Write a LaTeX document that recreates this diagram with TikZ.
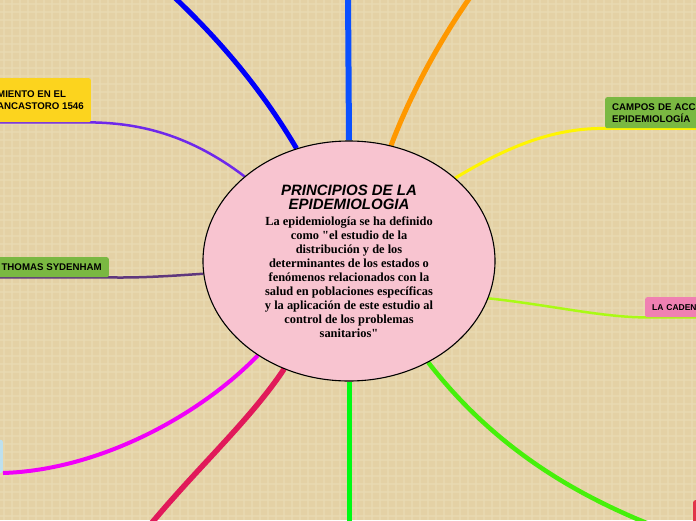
\documentclass[tikz,border=0pt]{standalone}
\usepackage{fontspec}
\setmainfont{Liberation Serif}[Ligatures=TeXOff]
\setsansfont{Liberation Sans}
\usetikzlibrary{shapes.geometric,backgrounds}

\definecolor{fondo}{RGB}{228,209,165}
\definecolor{cuadricula}{RGB}{234,219,180}
\definecolor{rosa}{RGB}{248,196,208}
\definecolor{verdecaja}{RGB}{122,184,66}
\definecolor{amarillocaja}{RGB}{252,212,30}
\definecolor{rosacaja}{RGB}{240,128,178}
\definecolor{celeste}{RGB}{190,224,238}
\definecolor{rojocaja}{RGB}{226,52,72}
\definecolor{azul}{RGB}{0,0,250}
\definecolor{azulclaro}{RGB}{10,80,255}
\definecolor{naranja}{RGB}{255,152,0}
\definecolor{amarillo}{RGB}{255,245,0}
\definecolor{lima}{RGB}{170,250,20}
\definecolor{verde}{RGB}{70,240,10}
\definecolor{verdepuro}{RGB}{0,250,20}
\definecolor{carmin}{RGB}{225,25,90}
\definecolor{magenta}{RGB}{240,0,250}
\definecolor{morado}{RGB}{95,55,125}
\definecolor{violeta}{RGB}{110,40,235}

\tikzset{
	tema/.style = {rounded corners = 2pt, inner xsep = 7pt, inner ysep = 3pt,
		align = left, font = \sffamily\bfseries\fontsize{9.7}{12}\selectfont},
	rama/.style = {line width = #1}
}

\begin{document}
\begin{tikzpicture}[x = 1pt, y = -1pt]
	\useasboundingbox (0,0) rectangle (696,520);
	\clip (0,0) rectangle (696,520);

	% idea central
	\node[ellipse, draw, line width = 1.1pt, fill = rosa, minimum width = 292pt, minimum height = 240pt,
		inner sep = 0pt, align = center, font = \bfseries\fontsize{12.4}{13.9}\selectfont] (centro) at (349,261) {
		{\sffamily\itshape\fontsize{15}{17}\selectfont PRINCIPIOS DE LA}\\[0pt]
		{\sffamily\itshape\fontsize{15}{17}\selectfont EPIDEMIOLOGIA}\\[3pt]
		La epidemiología se ha definido\\
		como "el estudio de la\\
		distribución y de los\\
		determinantes de los estados o\\
		fenómenos relacionados con la\\
		salud en poblaciones específicas\\
		y la aplicación de este estudio al\\
		control de los problemas\\
		sanitarios"};

	% temas
	\node[tema, fill = amarillocaja, anchor = north east, minimum height = 44pt] (fracastoro) at (91,78)
		{MIENTO EN EL\\ANCASTORO 1546};
	\node[tema, fill = verdecaja, anchor = north east, minimum height = 20pt] (sydenham) at (109,257)
		{THOMAS SYDENHAM};
	\node[tema, fill = verdecaja, anchor = north west, minimum height = 31pt, text width = 116pt] (campos) at (605,97)
		{CAMPOS DE ACC\\EPIDEMIOLOGÍA};
	\node[tema, fill = rosacaja, anchor = north west, minimum height = 20pt, text width = 76pt,
		font = \sffamily\bfseries\fontsize{8.5}{10}\selectfont] (cadena) at (645,297) {LA CADEN};
	\node[tema, fill = celeste, anchor = south east, minimum height = 33pt, minimum width = 40pt] (celeste) at (3,473) {};
	\node[tema, fill = rojocaja, anchor = north west, minimum height = 40pt, minimum width = 40pt] (rojo) at (693,500) {};

	% extremos libres
	\coordinate (arriba1) at (173,-4);
	\coordinate (arriba2) at (348,-6);
	\coordinate (arriba3) at (471,-4);
	\coordinate (abajo1) at (150,525);
	\coordinate (abajo2) at (349,526);

	\begin{scope}[on background layer]
		\fill[fondo] (0,0) rectangle (696,520);
		\foreach \i in {4,12,...,700}
			\draw[cuadricula, line width = 2pt, opacity = 0.6] (\i,0) -- (\i,520);
		\foreach \j in {4,12,...,524}
			\draw[cuadricula, line width = 2pt, opacity = 0.6] (0,\j) -- (696,\j);

		% ramas
		\draw[rama = 5pt, azul] (centro.115) .. controls (265,95) and (225,45) .. (arriba1);
		\draw[rama = 6pt, azulclaro] (centro.90) -- (arriba2);
		\draw[rama = 5pt, naranja] (centro.70) .. controls (410,95) and (440,40) .. (arriba3);
		\draw[rama = 3pt, amarillo] (centro.38) .. controls (510,145) and (555,128) .. (campos.south west) -- (campos.south east);
		\draw[rama = 2.5pt, lima] (centro.-15) .. controls (550,305) and (600,317) .. (cadena.south west) -- (cadena.south east);
		\draw[rama = 4.5pt, verde] (centro.-52) .. controls (500,455) and (590,505) .. (rojo.south west);
		\draw[rama = 5pt, verdepuro] (centro.-90) -- (abajo2);
		\draw[rama = 5.5pt, carmin] (centro.-121) .. controls (250,420) and (200,465) .. (abajo1);
		\draw[rama = 4pt, magenta] (centro.-134) .. controls (200,415) and (100,470) .. (celeste.south east);
		\draw[rama = 2.5pt, morado] (centro.185) .. controls (170,276) and (140,278) .. (sydenham.south east) -- (sydenham.south west);
		\draw[rama = 2.5pt, violeta] (centro.141) .. controls (190,135) and (140,123) .. (fracastoro.south east) -- (fracastoro.south west);
	\end{scope}
\end{tikzpicture}
\end{document}
